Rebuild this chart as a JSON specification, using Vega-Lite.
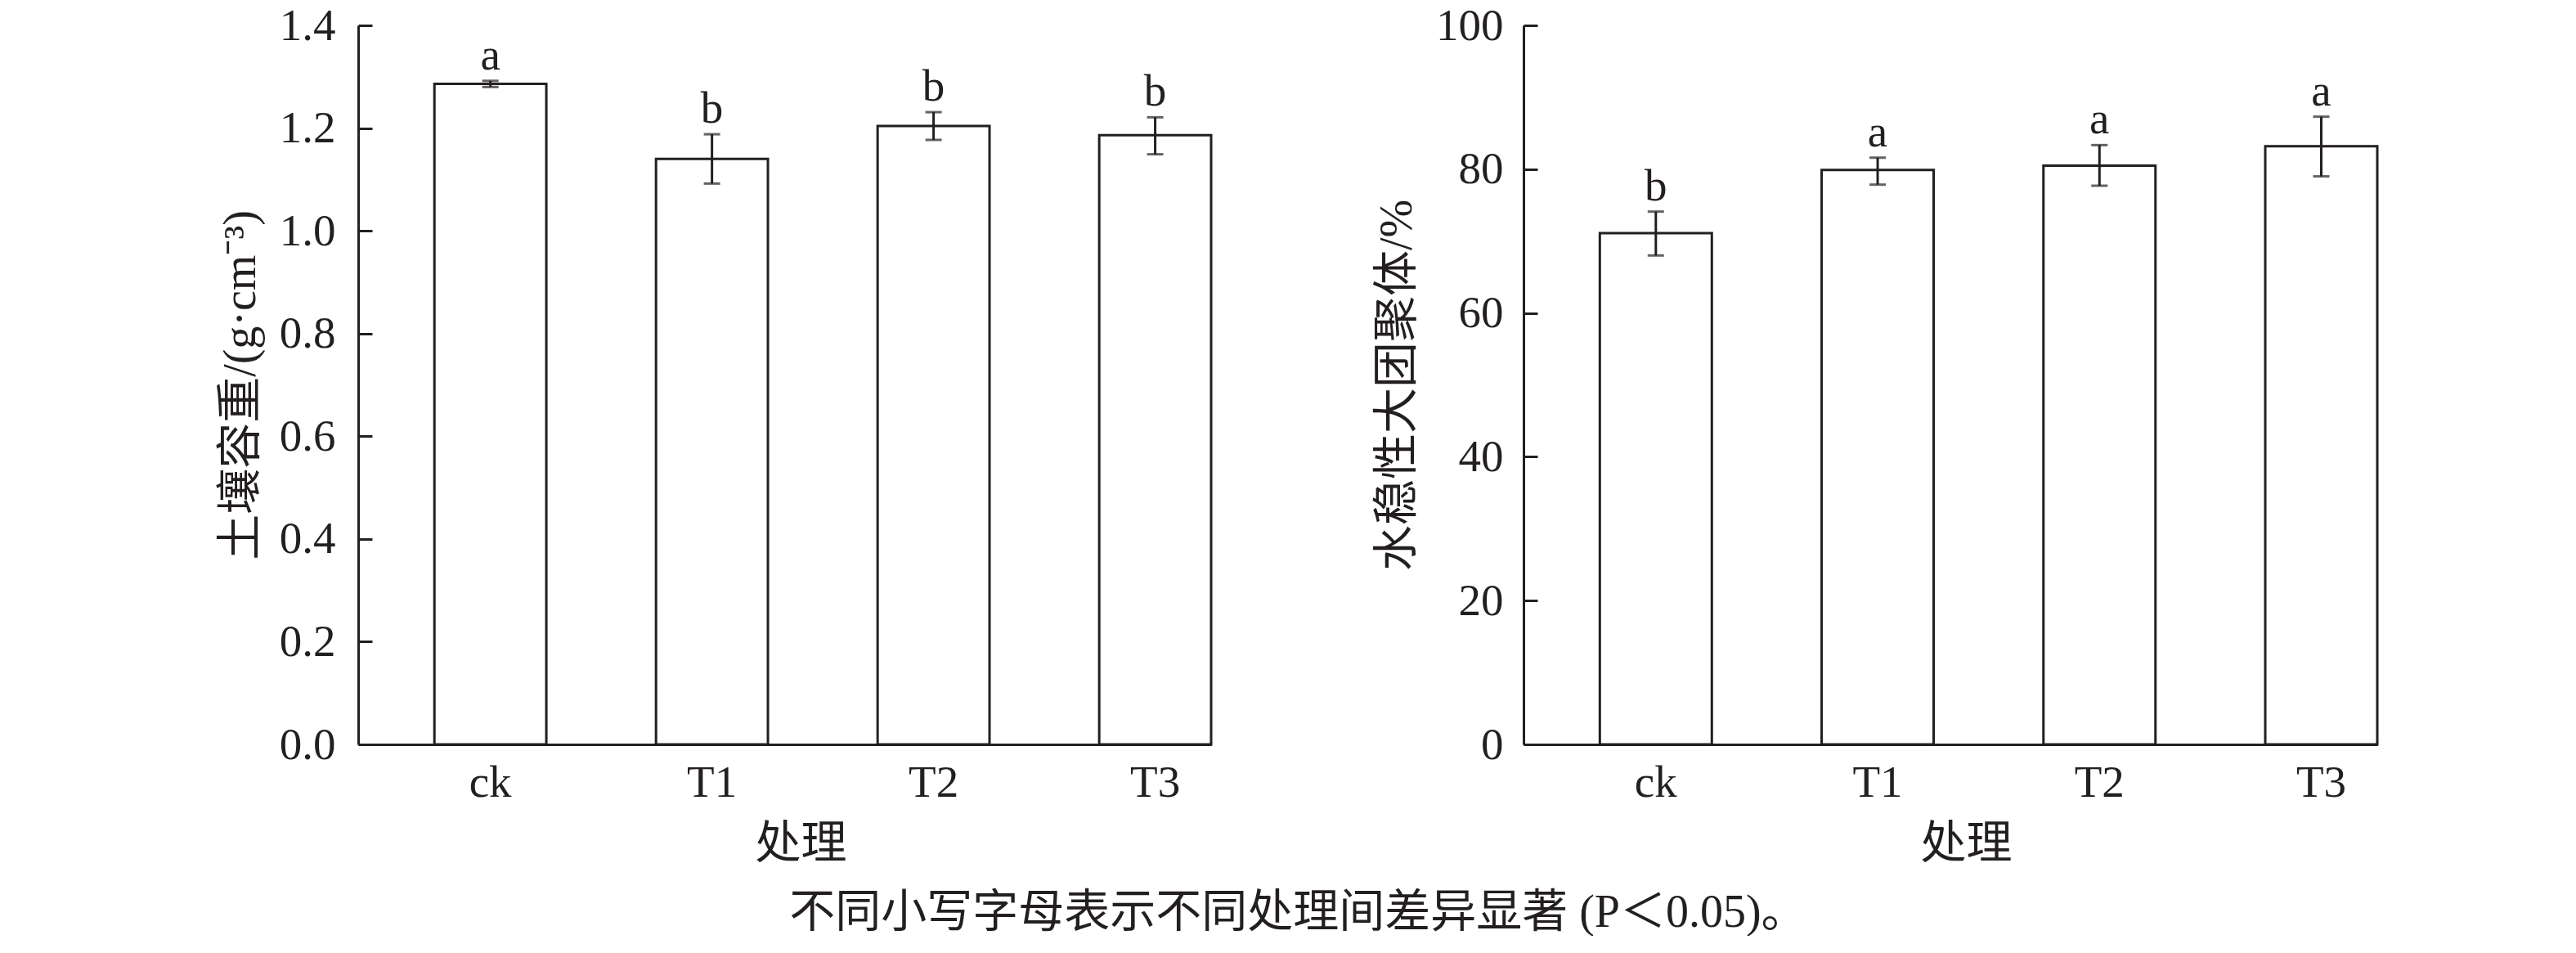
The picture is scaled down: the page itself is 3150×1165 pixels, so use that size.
{
  "$schema": "https://vega.github.io/schema/vega-lite/v6.json",
  "background": "white",
  "autosize": {"type": "pad"},
  "padding": {"left": 266, "top": 4, "right": 0, "bottom": 0},
  "config": {
    "view": {"stroke": null},
    "axis": {
      "domainColor": "#231f20", "domainWidth": 3,
      "tickColor": "#231f20", "tickWidth": 3,
      "labelColor": "#231f20", "titleColor": "#231f20",
      "labelFont": "Liberation Serif", "labelFontSize": 55,
      "titleFont": "Liberation Serif, Noto Sans CJK SC", "titleFontSize": 56, "titleFontWeight": "normal",
      "grid": false
    },
    "concat": {"spacing": 382}
  },
  "bounds": "flush",
  "title": {
    "text": "不同小写字母表示不同处理间差异显著 (P＜0.05)。",
    "orient": "bottom", "anchor": "middle",
    "font": "Liberation Serif, Noto Sans CJK SC", "fontSize": 56, "fontWeight": "normal",
    "color": "#231f20", "offset": 30
  },
  "hconcat": [
    {
      "width": 1043, "height": 879,
      "data": {"values": [
        {"treatment": "ck", "mean": 1.286, "lo": 1.280, "hi": 1.292, "letter": "a"},
        {"treatment": "T1", "mean": 1.140, "lo": 1.092, "hi": 1.188, "letter": "b"},
        {"treatment": "T2", "mean": 1.204, "lo": 1.177, "hi": 1.231, "letter": "b"},
        {"treatment": "T3", "mean": 1.186, "lo": 1.149, "hi": 1.221, "letter": "b"}
      ]},
      "encoding": {
        "x": {"field": "treatment", "type": "nominal", "sort": ["ck", "T1", "T2", "T3"],
          "scale": {"paddingInner": 0.495, "paddingOuter": 0.172, "align": 1},
          "axis": {"title": "处理", "ticks": false, "labelAngle": 0, "labelPadding": 20, "titlePadding": 20, "titleX": 541}}
      },
      "layer": [
        {"mark": {"type": "bar", "fill": "white", "stroke": "#231f20", "strokeWidth": 3},
         "encoding": {"y": {"field": "mean", "type": "quantitative",
           "scale": {"domain": [0, 1.4], "nice": false},
           "axis": {"title": "土壤容重/(g·cm⁻³)", "values": [0, 0.2, 0.4, 0.6, 0.8, 1.0, 1.2, 1.4], "format": ".1f", "tickSize": -17, "labelPadding": 45, "titlePadding": 18}}}},
        {"mark": {"type": "rule", "stroke": "#231f20", "strokeWidth": 3},
         "encoding": {"y": {"field": "lo", "type": "quantitative"}, "y2": {"field": "hi"}}},
        {"mark": {"type": "tick", "color": "#231f20", "size": 20, "thickness": 3},
         "encoding": {"y": {"field": "lo", "type": "quantitative"}}},
        {"mark": {"type": "tick", "color": "#231f20", "size": 20, "thickness": 3},
         "encoding": {"y": {"field": "hi", "type": "quantitative"}}},
        {"mark": {"type": "text", "baseline": "alphabetic", "dy": -14, "font": "Liberation Serif", "fontSize": 55, "color": "#231f20"},
         "encoding": {"y": {"field": "hi", "type": "quantitative"}, "text": {"field": "letter"}}}
      ]
    },
    {
      "width": 1044, "height": 879,
      "data": {"values": [
        {"treatment": "ck", "mean": 71.1, "lo": 68.0, "hi": 74.1, "letter": "b"},
        {"treatment": "T1", "mean": 79.9, "lo": 77.85, "hi": 81.6, "letter": "a"},
        {"treatment": "T2", "mean": 80.5, "lo": 77.7, "hi": 83.35, "letter": "a"},
        {"treatment": "T3", "mean": 83.2, "lo": 79.0, "hi": 87.3, "letter": "a"}
      ]},
      "encoding": {
        "x": {"field": "treatment", "type": "nominal", "sort": ["ck", "T1", "T2", "T3"],
          "scale": {"paddingInner": 0.495, "paddingOuter": 0.172, "align": 1},
          "axis": {"title": "处理", "ticks": false, "labelAngle": 0, "labelPadding": 20, "titlePadding": 20, "titleX": 541}}
      },
      "layer": [
        {"mark": {"type": "bar", "fill": "white", "stroke": "#231f20", "strokeWidth": 3},
         "encoding": {"y": {"field": "mean", "type": "quantitative",
           "scale": {"domain": [0, 100], "nice": false},
           "axis": {"title": "水稳性大团聚体/%", "values": [0, 20, 40, 60, 80, 100], "format": "d", "tickSize": -17, "labelPadding": 42, "titlePadding": 18}}}},
        {"mark": {"type": "rule", "stroke": "#231f20", "strokeWidth": 3},
         "encoding": {"y": {"field": "lo", "type": "quantitative"}, "y2": {"field": "hi"}}},
        {"mark": {"type": "tick", "color": "#231f20", "size": 20, "thickness": 3},
         "encoding": {"y": {"field": "lo", "type": "quantitative"}}},
        {"mark": {"type": "tick", "color": "#231f20", "size": 20, "thickness": 3},
         "encoding": {"y": {"field": "hi", "type": "quantitative"}}},
        {"mark": {"type": "text", "baseline": "alphabetic", "dy": -14, "font": "Liberation Serif", "fontSize": 55, "color": "#231f20"},
         "encoding": {"y": {"field": "hi", "type": "quantitative"}, "text": {"field": "letter"}}}
      ]
    }
  ]
}
